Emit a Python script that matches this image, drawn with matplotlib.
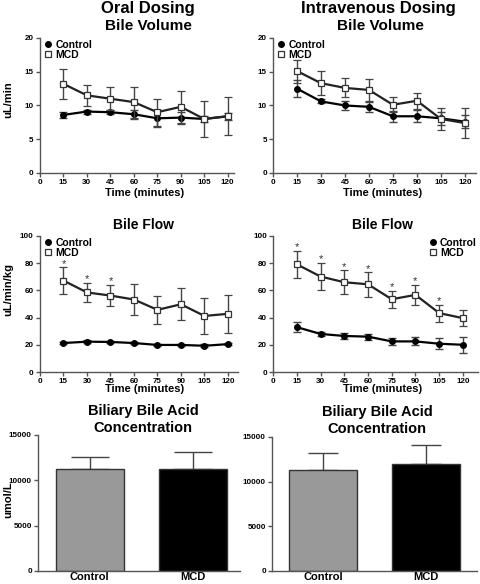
import matplotlib
matplotlib.use('Agg')
import matplotlib.pyplot as plt
from matplotlib.lines import Line2D
import numpy as np

plt.rcParams['font.family'] = ['Liberation Sans', 'DejaVu Sans']
plt.rcParams['font.weight'] = 'bold'

# data
times = [15, 30, 45, 60, 75, 90, 105, 120]

oral_vol_ctrl = [8.6, 9.1, 9.0, 8.7, 8.1, 8.2, 8.0, 8.4]
oral_vol_ctrl_err = [0.4, 0.3, 0.3, 0.7, 1.3, 0.9, 0.4, 0.5]
oral_vol_mcd = [13.2, 11.5, 11.0, 10.5, 9.0, 9.8, 8.0, 8.4]
oral_vol_mcd_err = [2.2, 1.6, 1.7, 2.3, 2.0, 2.4, 2.6, 2.8]

iv_vol_ctrl = [12.5, 10.6, 10.0, 9.8, 8.4, 8.4, 8.1, 7.6]
iv_vol_ctrl_err = [1.2, 0.3, 0.7, 0.7, 0.8, 0.9, 1.0, 1.0]
iv_vol_mcd = [15.1, 13.3, 12.6, 12.3, 10.1, 10.7, 8.0, 7.4]
iv_vol_mcd_err = [1.7, 1.8, 1.4, 1.6, 1.1, 1.2, 1.6, 2.2]

oral_flow_ctrl = [21.3, 22.3, 22.1, 21.3, 19.9, 19.9, 19.3, 20.5]
oral_flow_ctrl_err = [1.0, 1.0, 1.0, 1.0, 1.0, 1.0, 1.0, 1.0]
oral_flow_mcd = [67.2, 58.5, 56.2, 53.3, 45.7, 49.8, 41.2, 42.8]
oral_flow_mcd_err = [10.0, 7.2, 7.8, 11.7, 10.2, 11.7, 12.9, 13.8]
oral_flow_sig = [15, 30, 45]

iv_flow_ctrl = [33.0, 28.0, 26.5, 26.0, 22.5, 22.5, 20.8, 20.0]
iv_flow_ctrl_err = [3.8, 1.2, 2.5, 2.2, 2.5, 3.0, 4.2, 5.7]
iv_flow_mcd = [79.2, 70.2, 66.0, 64.5, 53.5, 56.7, 43.3, 39.6]
iv_flow_mcd_err = [9.8, 10.0, 9.0, 9.0, 6.2, 7.5, 6.2, 6.0]
iv_flow_sig = [15, 30, 45, 60, 75, 90, 105]

groups = ['Control', 'MCD']
oral_bile_acid = [11300, 11250]
oral_bile_acid_err = [1300, 1900]
iv_bile_acid = [11330, 11930]
iv_bile_acid_err = [1870, 2130]

AX = '#555555'


def style_axes(ax):
    for s in ['top', 'right']:
        ax.spines[s].set_visible(False)
    for s in ['left', 'bottom']:
        ax.spines[s].set_color(AX)
        ax.spines[s].set_linewidth(1.0)
    ax.tick_params(colors='black', width=1.0, length=3, labelsize=5.8, pad=1.5)
    ax.tick_params(axis='both', color=AX)


def line_panel(ax, ctrl, ctrl_err, mcd, mcd_err, ymax, yticks, xmax, sig=None, legend_right=False):
    ax.errorbar(times, ctrl, yerr=ctrl_err, color='black', ecolor='#444444', elinewidth=1.0,
                capsize=3, capthick=1.0, lw=1.6, marker='o', ms=4, mfc='black', mec='black',
                zorder=3)
    ax.errorbar(times, mcd, yerr=mcd_err, color='#222222', ecolor='#444444', elinewidth=1.0,
                capsize=3, capthick=1.0, lw=1.6, marker='s', ms=4.5, mfc='white', mec='#333333',
                mew=0.9, zorder=4)
    if sig:
        for t in sig:
            i = times.index(t)
            ax.text(t, mcd[i] + mcd_err[i] + ymax * 0.025, '*', ha='center', va='center',
                    fontsize=8, fontweight='normal', color='#333333')
    ax.set_xlim(0, xmax)
    ax.set_ylim(0, ymax)
    ax.set_xticks([0] + times)
    ax.set_yticks(yticks)
    style_axes(ax)
    handles = [Line2D([], [], ls='None', marker='o', ms=4, mfc='black', mec='black'),
               Line2D([], [], ls='None', marker='s', ms=4.5, mfc='white', mec='#333333', mew=0.9)]
    if legend_right:
        loc, anchor = 'upper right', (1.0, 0.995)
    else:
        loc, anchor = 'upper left', (0.02, 0.995)
    ax.legend(handles, ['Control', 'MCD'], loc=loc, bbox_to_anchor=anchor, frameon=False,
              fontsize=7.5, handlelength=0.6, handletextpad=0.4, labelspacing=0.0,
              borderaxespad=0.0, borderpad=0.1)


def bar_panel(ax, vals, errs, xlim_right, capsize):
    x = np.arange(len(groups))
    ax.bar(x, vals, width=0.66, color=['#999999', '#000000'], edgecolor='#333333', linewidth=1.0,
           zorder=2)
    ax.errorbar(x, vals, yerr=[[0, 0], errs], fmt='none', ecolor='#444444', elinewidth=1.0,
                capsize=capsize, capthick=1.0, zorder=1)
    ax.set_xlim(-0.5, xlim_right)
    ax.set_ylim(0, 15000)
    ax.set_yticks([0, 5000, 10000, 15000])
    ax.set_xticks(x)
    ax.set_xticklabels(groups)
    style_axes(ax)
    ax.tick_params(axis='x', length=0, labelsize=8, pad=0.5)


fig = plt.figure(figsize=(4.8, 5.84), dpi=100)

ax1 = fig.add_axes([0.0833, 0.7038, 0.404, 0.2312])
line_panel(ax1, oral_vol_ctrl, oral_vol_ctrl_err, oral_vol_mcd, oral_vol_mcd_err,
           20, [0, 5, 10, 15, 20], 124)
ax2 = fig.add_axes([0.5688, 0.7038, 0.423, 0.2312])
line_panel(ax2, iv_vol_ctrl, iv_vol_ctrl_err, iv_vol_mcd, iv_vol_mcd_err,
           20, [0, 5, 10, 15, 20], 127)
ax3 = fig.add_axes([0.0833, 0.3630, 0.4125, 0.2329])
line_panel(ax3, oral_flow_ctrl, oral_flow_ctrl_err, oral_flow_mcd, oral_flow_mcd_err,
           100, [0, 20, 40, 60, 80, 100], 126.4, sig=oral_flow_sig)
ax4 = fig.add_axes([0.5688, 0.3630, 0.427, 0.2329])
line_panel(ax4, iv_flow_ctrl, iv_flow_ctrl_err, iv_flow_mcd, iv_flow_mcd_err,
           100, [0, 20, 40, 60, 80, 100], 129.5, sig=iv_flow_sig, legend_right=True)
ax5 = fig.add_axes([0.0792, 0.0223, 0.421, 0.2329])
bar_panel(ax5, oral_bile_acid, oral_bile_acid_err, 1.46, 14)
ax6 = fig.add_axes([0.5667, 0.0223, 0.427, 0.2295])
bar_panel(ax6, iv_bile_acid, iv_bile_acid_err, 1.5, 11)


def ftext(x, y, s, size, **kw):
    fig.text(x / 480, 1 - y / 584, s, ha='center', va='center', fontsize=size,
             fontweight='bold', **kw)


ftext(148, 9, 'Oral Dosing', 12)
ftext(378, 9, 'Intravenous Dosing', 12)
ftext(148, 26, 'Bile Volume', 11)
ftext(380, 26, 'Bile Volume', 11)
ftext(143, 225, 'Bile Flow', 10)
ftext(382, 225, 'Bile Flow', 10)
ftext(143, 411, 'Biliary Bile Acid', 10.5)
ftext(143, 428, 'Concentration', 10.5)
ftext(377, 412, 'Biliary Bile Acid', 10.5)
ftext(377, 429, 'Concentration', 10.5)
for xc, yc in [(145, 193), (383, 193), (145, 389), (383, 389)]:
    ftext(xc, yc, 'Time (minutes)', 8)
ftext(8, 100, 'uL/min', 8, rotation=90)
ftext(8, 290, 'uL/min/kg', 8, rotation=90)
ftext(8, 500, 'umol/L', 8, rotation=90)

fig.savefig('out.png', dpi=100)
